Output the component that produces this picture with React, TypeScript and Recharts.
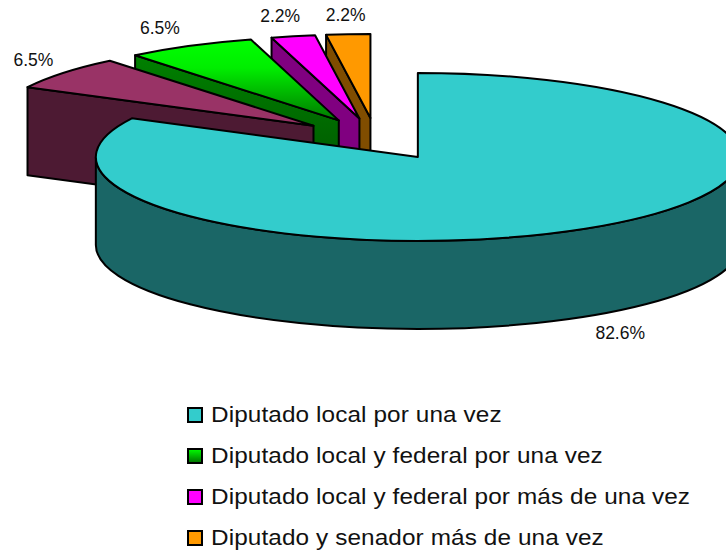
import React from "react";
import { PieChart, Pie, Legend } from "recharts";

// drawing order is back to front, so teal comes last
const categories = [
  "Diputado y senador más de una vez",
  "Diputado local y federal por más de una vez",
  "Diputado local y federal por una vez",
  "",
  "Diputado local por una vez",
];
const shares = [2.2, 2.2, 6.5, 6.5, 82.6];
const topColors = ["#ff9900", "#ff00ff", "url(#greenTop)", "#993366", "#33cccc"];
const wallColors = ["#804d00", "#800080", "url(#greenWall)", "#4d1a33", "#1a6666"];
const labelNudges = [
  [-2.5, -19],
  [-13, -20],
  [-30, -18],
  [-30, -13],
  [35, 16],
];

const RADIUS_X = 322;
const RADIUS_Y = 84;
const DEPTH = 88;
const EXPLODE = 0.25;
const FONT = '"Liberation Sans", Arial, sans-serif';

const data = categories.map((name, i) => ({
  name,
  value: shares[i],
  fill: topColors[i],
}));

const rad = (deg: number) => (deg * Math.PI) / 180;

const apexOf = (cx: number, cy: number, mid: number) => ({
  x: cx + EXPLODE * RADIUS_X * Math.cos(rad(mid)),
  y: cy - EXPLODE * RADIUS_Y * Math.sin(rad(mid)),
});

const rimOf = (apex: { x: number; y: number }, deg: number) => ({
  x: apex.x + RADIUS_X * Math.cos(rad(deg)),
  y: apex.y - RADIUS_Y * Math.sin(rad(deg)),
});

const Slice3D = (props: any) => {
  const { cx, cy, startAngle, endAngle, midAngle, fill, index } = props;
  const apex = apexOf(cx, cy, midAngle);
  const a = rimOf(apex, startAngle);
  const b = rimOf(apex, endAngle);
  const large = endAngle - startAngle > 180 ? 1 : 0;
  const top = `M${apex.x},${apex.y} L${a.x},${a.y} A${RADIUS_X},${RADIUS_Y} 0 ${large} 0 ${b.x},${b.y} Z`;

  let wall = "";
  if (endAngle <= 180) {
    // the cut side that looks at the viewer
    wall = `M${apex.x},${apex.y} L${b.x},${b.y} L${b.x},${b.y + DEPTH} L${apex.x},${apex.y + DEPTH} Z`;
  }
  const lo = Math.max(startAngle, 180);
  const hi = Math.min(endAngle, 360);
  if (hi > lo) {
    const p = rimOf(apex, lo);
    const q = rimOf(apex, hi);
    wall += `M${p.x},${p.y} A${RADIUS_X},${RADIUS_Y} 0 0 0 ${q.x},${q.y} L${q.x},${q.y + DEPTH} A${RADIUS_X},${RADIUS_Y} 0 0 1 ${p.x},${p.y + DEPTH} Z`;
  }

  return (
    <g>
      {wall && <path d={wall} fill={wallColors[index]} stroke="#000" strokeWidth={2} strokeLinejoin="round" />}
      <path d={top} fill={fill} stroke="#000" strokeWidth={2} strokeLinejoin="round" />
    </g>
  );
};

const renderLabel = (props: any) => {
  const { cx, cy, midAngle, index, value } = props;
  const apex = apexOf(cx, cy, midAngle);
  const rim = rimOf(apex, midAngle);
  const front = midAngle > 180 ? DEPTH : 0;
  return (
    <text
      x={rim.x + labelNudges[index][0]}
      y={rim.y + front + labelNudges[index][1]}
      textAnchor="middle"
      dominantBaseline="central"
      fontFamily={FONT}
      fontSize={17.5}
      fill="#111"
    >
      {value.toFixed(1)}%
    </text>
  );
};

const renderLegend = (props: any) => {
  const rows = [...(props.payload || [])].reverse().filter((p: any) => p.value);
  return (
    <div>
      {rows.map((p: any) => (
        <div key={p.value} style={{ display: "flex", alignItems: "center", height: 40.8 }}>
          <svg width={16} height={16} style={{ marginRight: 8 }}>
            <defs>
              <linearGradient id="greenSwatch" x1="0" y1="0" x2="0" y2="1">
                <stop offset="0%" stopColor="#00ff00" />
                <stop offset="100%" stopColor="#007000" />
              </linearGradient>
            </defs>
            <rect
              x={1}
              y={1}
              width={14}
              height={14}
              fill={String(p.color).startsWith("url") ? "url(#greenSwatch)" : p.color}
              stroke="#000"
              strokeWidth={2}
            />
          </svg>
          <span
            style={{
              fontFamily: FONT,
              fontSize: 22,
              letterSpacing: 0.1,
              color: "#111",
              whiteSpace: "nowrap",
              transform: "scaleX(1.105)",
              transformOrigin: "left center",
            }}
          >
            {p.value}
          </span>
        </div>
      ))}
    </div>
  );
};

export default function App() {
  return (
    <div style={{ position: "absolute", left: 0, top: 0, width: 726, height: 550, overflow: "hidden", background: "#fff" }}>
      <PieChart width={726} height={550} margin={{ top: 0, right: 0, bottom: 0, left: 0 }}>
        <defs>
          <linearGradient id="greenTop" x1="0" y1="0" x2="0" y2="1">
            <stop offset="0%" stopColor="#00ff00" />
            <stop offset="35%" stopColor="#00ee00" />
            <stop offset="100%" stopColor="#007a00" />
          </linearGradient>
          <linearGradient id="greenWall" x1="0" y1="0" x2="0" y2="1">
            <stop offset="0%" stopColor="#008000" />
            <stop offset="100%" stopColor="#004d00" />
          </linearGradient>
        </defs>
        <Pie
          data={data}
          dataKey="value"
          nameKey="name"
          cx={376}
          cy={139}
          innerRadius={0}
          outerRadius={RADIUS_X}
          startAngle={90}
          endAngle={450}
          stroke="none"
          shape={Slice3D}
          label={renderLabel}
          labelLine={false}
          isAnimationActive={false}
        />
        <Legend
          content={renderLegend}
          itemSorter={null}
          wrapperStyle={{ position: "absolute", left: 187, top: 395, width: 530, bottom: "auto" }}
        />
      </PieChart>
    </div>
  );
}
